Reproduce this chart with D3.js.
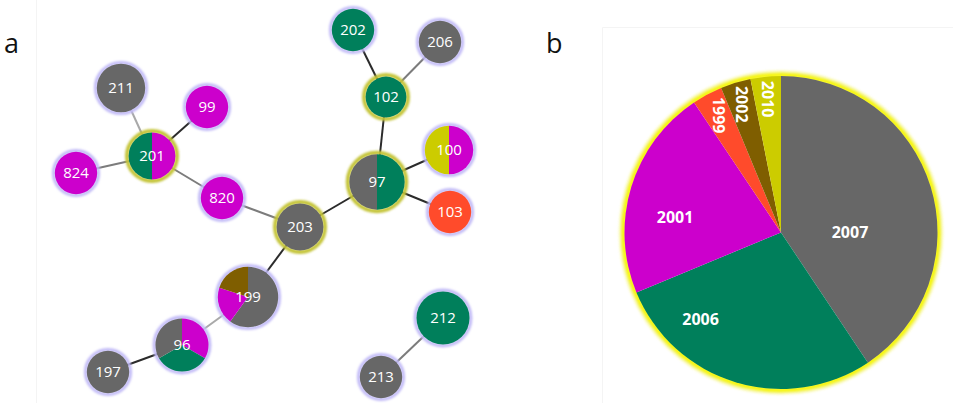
<!DOCTYPE html>
<html>
<head>
<meta charset="utf-8">
<script src="https://cdn.jsdelivr.net/npm/d3@7"></script>
<style>
  body { margin: 0; background: #ffffff; }
  svg { display: block; }
</style>
</head>
<body>
<svg id="chart" width="953" height="403"></svg>
<script>
// ---- (a) minimum spanning tree of sequence types ----
const nodeIds = ["211", "99", "201", "824", "820", "203", "97", "102", "202", "206", "100", "103", "199", "96", "197", "212", "213"];
// isolates per node as [year, count], slices clockwise from 12 o'clock
const nodeYears = [
  [[2007, 2]],
  [[2001, 1]],
  [[2001, 1], [2006, 1]],
  [[2001, 1]],
  [[2001, 1]],
  [[2007, 2]],
  [[2006, 2], [2007, 2]],
  [[2006, 1]],
  [[2006, 1]],
  [[2007, 1]],
  [[2001, 1], [2010, 1]],
  [[1999, 1]],
  [[2007, 3], [2001, 1], [2002, 1]],
  [[2001, 1], [2006, 1], [2007, 1]],
  [[2007, 1]],
  [[2006, 3]],
  [[2007, 1]]
];
// tree layout units
const nodeLayoutX = [61, 147, 92, 16, 162, 240, 317, 326, 293, 380, 389, 390, 188, 122, 48, 383, 321];
const nodeLayoutY = [78, 97, 146, 163, 188, 217, 172, 87, 20, 32, 140, 202, 287, 335, 362, 308, 367];
// nodes drawn with the highlighted ring
const ringedIds = ["201", "102", "97", "203"];
// links: [source, target, allelic distance class]
const links = [
  ["211", "201", 3], ["99", "201", 1], ["824", "201", 2], ["201", "820", 2],
  ["820", "203", 2], ["203", "97", 1], ["97", "102", 1], ["102", "202", 1],
  ["102", "206", 2], ["97", "100", 1], ["97", "103", 1], ["203", "199", 1],
  ["199", "96", 3], ["96", "197", 1], ["212", "213", 2]
];

// ---- (b) isolates by year ----
const pieYears = [2007, 2006, 2001, 1999, 2002, 2010];
const pieCounts = [13, 9, 7, 1, 1, 1];
// label placement: [angle in degrees or null for slice middle, radius, rotation]
const pieLabelPlacement = [[90, 69, 0], [223, 118, 0], [278, 107, 0], [null, 133, 90], [null, 134, 90], [null, 134, 90]];

const yearColor = d3.scaleOrdinal()
  .domain([2007, 2006, 2001, 1999, 2002, 2010])
  .range(["#676767", "#007f5b", "#cc00cc", "#ff4b2b", "#7f5e00", "#cccc00"]);
const linkColor = d3.scaleOrdinal().domain([1, 2, 3]).range(["#2b2b2b", "#7c7c7c", "#a9a9a9"]);

const svg = d3.select("#chart");
const defs = svg.append("defs");
defs.append("filter").attr("id", "soft").attr("x", "-20%").attr("y", "-20%").attr("width", "140%").attr("height", "140%")
  .append("feGaussianBlur").attr("stdDeviation", 0.8);
defs.append("filter").attr("id", "glow").attr("x", "-20%").attr("y", "-20%").attr("width", "140%").attr("height", "140%")
  .append("feGaussianBlur").attr("stdDeviation", 1.6);

// faint panel frames
svg.append("line").attr("x1", 36.5).attr("x2", 36.5).attr("y1", 0).attr("y2", 403)
  .attr("stroke", "#f4f4f4").attr("stroke-width", 1);
svg.append("path").attr("d", "M602.5,403V27.5H953")
  .attr("fill", "none").attr("stroke", "#f4f4f4").attr("stroke-width", 1);

// panel letters
svg.append("text").attr("x", 4).attr("y", 53).text("a")
  .attr("font-family", "Open Sans, sans-serif").attr("font-size", 27).attr("fill", "#111");
svg.append("text").attr("x", 546).attr("y", 53).text("b")
  .attr("font-family", "Open Sans, sans-serif").attr("font-size", 27).attr("fill", "#111");

// ---- network ----
const nx = d3.scaleLinear().domain([0, 440]).range([60, 500]);
const ny = d3.scaleLinear().domain([0, 380]).range([10, 390]);
const rScale = d3.scaleSqrt().domain([1, 5]).range([24, 33]);

const nodes = nodeIds.map((id, i) => ({
  id,
  years: nodeYears[i],
  total: d3.sum(nodeYears[i], d => d[1]),
  x: nx(nodeLayoutX[i]),
  y: ny(nodeLayoutY[i]),
  ringed: ringedIds.includes(id)
}));
const byId = new Map(nodes.map(n => [n.id, n]));

const net = svg.append("g");
net.selectAll("line.link").data(links).join("line")
  .attr("class", "link")
  .attr("x1", d => byId.get(d[0]).x).attr("y1", d => byId.get(d[0]).y)
  .attr("x2", d => byId.get(d[1]).x).attr("y2", d => byId.get(d[1]).y)
  .attr("stroke", d => linkColor(d[2])).attr("stroke-width", 2);

const nodePie = d3.pie().sort(null).value(d => d[1]);
const ng = net.selectAll("g.node").data(nodes).join("g")
  .attr("class", "node")
  .attr("transform", d => `translate(${d.x},${d.y})`);

ng.append("circle")
  .attr("r", d => rScale(d.total) - (d.ringed ? 2 : 1.6))
  .attr("fill", "none")
  .attr("stroke", d => d.ringed ? "#c4c437" : "#c2bbf7")
  .attr("stroke-width", d => d.ringed ? 4 : 3.4)
  .attr("filter", "url(#soft)");

ng.each(function (d) {
  const r = rScale(d.total) - (d.ringed ? 3.6 : 2.8);
  const arc = d3.arc().innerRadius(0).outerRadius(r);
  d3.select(this).selectAll("path").data(nodePie(d.years)).join("path")
    .attr("d", arc)
    .attr("fill", s => yearColor(s.data[0]));
});

ng.append("text")
  .attr("text-anchor", "middle").attr("dy", "0.36em")
  .attr("font-family", "Open Sans, sans-serif").attr("font-size", 15)
  .attr("fill", "#ffffff")
  .text(d => d.id);

// ---- pie ----
const cx = 781, cy = 232.5, R = 156.5;
const pg = svg.append("g").attr("transform", `translate(${cx},${cy})`);
pg.append("circle").attr("r", R + 2).attr("fill", "none")
  .attr("stroke", "#f2f25a").attr("stroke-width", 6).attr("filter", "url(#glow)").attr("opacity", 0.8);
pg.append("circle").attr("r", R + 1).attr("fill", "none")
  .attr("stroke", "#f6f600").attr("stroke-width", 3).attr("filter", "url(#soft)");

const pie = d3.pie().sort(null).value(d => d.count);
const pieData = pie(pieYears.map((y, i) => ({ year: y, count: pieCounts[i], place: pieLabelPlacement[i] })));
const arc = d3.arc().innerRadius(0).outerRadius(R);
pg.selectAll("path.slice").data(pieData).join("path")
  .attr("class", "slice")
  .attr("d", arc)
  .attr("fill", d => yearColor(d.data.year));

pg.selectAll("text.plabel").data(pieData).join("text")
  .attr("class", "plabel")
  .attr("transform", d => {
    const [deg, rad, rot] = d.data.place;
    const a = deg === null ? (d.startAngle + d.endAngle) / 2 : deg * Math.PI / 180;
    const x = Math.sin(a) * rad, y = -Math.cos(a) * rad;
    return `translate(${x},${y}) rotate(${rot})`;
  })
  .attr("text-anchor", "middle").attr("dy", "0.36em")
  .attr("font-family", "Open Sans, sans-serif").attr("font-weight", 700).attr("font-size", 16)
  .attr("fill", "#ffffff")
  .text(d => d.data.year);
</script>
</body>
</html>
